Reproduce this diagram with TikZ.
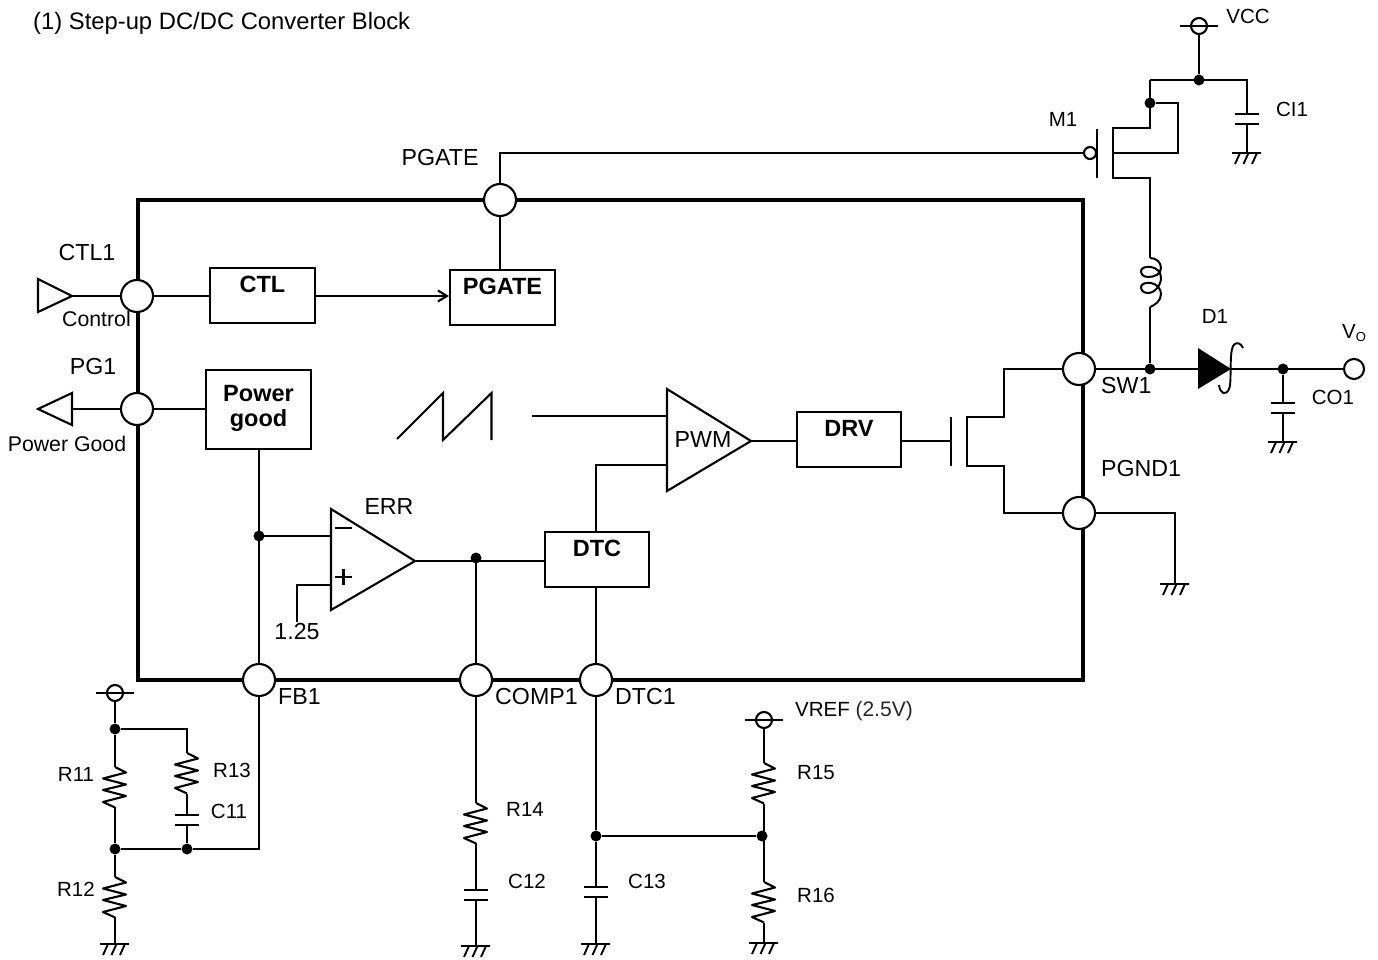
\documentclass[tikz,border=0pt]{standalone}
\usepackage{fontspec}
\setmainfont{Liberation Sans}
\usetikzlibrary{arrows.meta}
\tikzset{
  x=1pt,y=-1pt,
  wire/.style={line width=2.1pt,line join=miter},
  chip/.style={line width=3.8pt},
  pinc/.style={circle,draw,fill=white,line width=2.1pt,minimum size=32pt,inner sep=0pt},
  term/.style={circle,draw,fill=white,line width=2.1pt,inner sep=0pt},
  dotn/.style={circle,fill=black,minimum size=11pt,inner sep=0pt},
  block/.style={draw,line width=2.1pt,fill=white,inner sep=0pt},
  bl/.style={font=\fontsize{23.5}{27}\selectfont\bfseries,inner sep=0pt},
  lL/.style={font=\fontsize{23.2}{26}\selectfont,inner sep=0pt},
  lM/.style={font=\fontsize{20.5}{24}\selectfont,inner sep=0pt},
  lS/.style={font=\fontsize{21.3}{24}\selectfont,inner sep=0pt},
  gndsym/.pic={\draw[line width=1.9pt] (-15,0) -- (14,0) (-7,0) -- (-12,11) (1.5,0) -- (-3.5,11) (10,0) -- (5,11);},
  capsym/.pic={\draw[line width=2.1pt] (-12,-5) -- (12,-5) (-12,5) -- (12,5);},
  ressym/.pic={\draw[line width=2.1pt,line join=round] (0,0) -- (11,5.5) -- (-12,11.5) -- (11,17.5) -- (-12,23) -- (11,29) -- (-12,35) -- (0,40.5);},
  railsym/.pic={\draw[line width=2.1pt] (-19,0) -- (19,0);},
}
\begin{document}
\begin{tikzpicture}
\useasboundingbox (0,0) rectangle (1378,960);
% chip outline
\draw[chip] (138,200) rectangle (1083,680);
% pins
\node[pinc] (pGate) at (500,200) {};
\node[pinc] (pCtl) at (137,296) {};
\node[pinc] (pPg) at (137,409) {};
\node[pinc] (pSw) at (1079,369) {};
\node[pinc] (pGnd) at (1079,513) {};
\node[pinc] (pFb) at (259,680) {};
\node[pinc] (pComp) at (476,680) {};
\node[pinc] (pDtc) at (596,680) {};
% blocks
\node[block,minimum width=105pt,minimum height=55pt,label={[bl,yshift=11pt]center:CTL}] (bCtl) at (262.5,295.5) {};
\node[block,minimum width=105pt,minimum height=55pt,label={[bl,yshift=11pt]center:PGATE}] (bPgate) at (502.5,297.5) {};
\node[block,minimum width=105pt,minimum height=79pt,label={[bl,yshift=16pt]center:Power},label={[bl,yshift=-10.5pt]center:good}] (bPow) at (258.5,409.5) {};
\node[block,minimum width=104pt,minimum height=55pt,label={[bl,yshift=11pt]center:DRV}] (bDrv) at (849,439.5) {};
\node[block,minimum width=104pt,minimum height=55pt,label={[bl,yshift=11pt]center:DTC}] (bDtc) at (597,559.5) {};
% amplifiers
\coordinate (errN) at (331,536);
\coordinate (errP) at (331,585);
\coordinate (errO) at (415,561);
\draw[wire] (331,509) -- (errO) -- (331,610) -- cycle;
\draw[wire] (335,528) -- (352,528);
\draw[wire] (335,577) -- (352,577) (343.5,569) -- (343.5,585);
\coordinate (pwmA) at (667,416);
\coordinate (pwmB) at (667,465);
\coordinate (pwmO) at (751,441);
\draw[wire] (667,389) -- (pwmO) -- (667,491) -- cycle;
% sawtooth
\coordinate (sawEnd) at (532,416);
\draw[wire] (397,439) -- (443,393) -- (443,440) -- (491.5,393) -- (491.5,440);
% input / output flags
\coordinate (ctlTip) at (72,296);
\draw[wire] (38,279) -- (ctlTip) -- (38,312) -- cycle;
\coordinate (pgBase) at (72,409);
\draw[wire] (38,409) -- (72,393) -- (72,425) -- cycle;
% internal connections
\draw[wire] (ctlTip) -- (pCtl.west);
\draw[wire] (pCtl.east) -- (bCtl.west |- pCtl.east);
\draw[wire,-{Straight Barb[length=9pt,width=11pt]}] (bCtl.east |- pCtl.east) -- (bPgate.west |- pCtl.east);
\draw[wire] (pGate.south) -- (pGate.south |- bPgate.north);
\draw[wire] (pgBase) -- (pPg.west);
\draw[wire] (pPg.east) -- (bPow.west |- pPg.east);
\coordinate (fbJ) at (259,536);
\draw[wire] (bPow.south -| pFb.north) -- (pFb.north);
\draw[wire] (fbJ) -- (errN);
\node[dotn] (dFb) at (fbJ) {};
\coordinate (ref) at (297,622);
\draw[wire] (errP) -| (ref);
\coordinate (compJ) at (476,561);
\draw[wire] (errO) -- (bDtc.west |- errO);
\draw[wire] (compJ) -- (pComp.north);
\node[dotn] (dComp) at (476,558) {};
\draw[wire] (pDtc.north) -- (pDtc.north |- bDtc.south);
\draw[wire] (sawEnd) -- (pwmA);
\draw[wire] (bDtc.north -| pDtc.north) |- (pwmB);
\draw[wire] (pwmO) -- (bDrv.west |- pwmO);
% low side FET
\coordinate (lsG) at (951,441);
\draw[wire] (bDrv.east |- lsG) -- (lsG);
\draw[wire] (951,417) -- (951,466);
\draw[wire] (pSw.west) -| (1004,417) -- (967,417) -- (967,466) -- (1004,466) |- (pGnd.west);
% PGND to ground
\coordinate (g1) at (1175,584);
\draw[wire] (pGnd.east) -| (g1);
\pic at (g1) {gndsym};
% SW line, diode, output
\node[dotn] (dSw) at (1150,369) {};
\coordinate (dA) at (1198,369);
\coordinate (dK) at (1231,369);
\node[term,minimum size=20pt] (tVo) at (1354,369) {};
\node[dotn] (dVo) at (1283,369) {};
\draw[wire] (pSw.east) -- (dA);
\draw[wire] (dK) -- (tVo.west);
\fill (1198,348) -- (dK) -- (1198,389) -- cycle;
\draw[line width=1.9pt] (1243,348) .. controls (1241,343) and (1236,341) .. (1233,346) .. controls (1229,354) and (1232,384) .. (1229,389) .. controls (1226,396) and (1220,394) .. (1219,385);
\coordinate (capOt) at (1283,403);
\coordinate (capOb) at (1283,413);
\coordinate (g2) at (1283,442);
\draw[wire] (dVo) -- (capOt) (capOb) -- (g2);
\pic at (1283,408) {capsym};
\pic at (g2) {gndsym};
% inductor
\coordinate (lT) at (1150,258);
\coordinate (lB) at (1150,307);
\draw[wire] (dSw) -- (lB);
\draw[line width=2pt] (lT) .. controls (1156,258) and (1161,262) .. (1161,268) .. controls (1161,274) and (1155,277) .. (1148,277) .. controls (1142,277) and (1141,273) .. (1141,271) .. controls (1141,268) and (1146,266) .. (1151,267) .. controls (1157,268) and (1161,272) .. (1161,278) .. controls (1161,285) and (1155,293) .. (1148,293) .. controls (1142,293) and (1141,289) .. (1141,287) .. controls (1141,284) and (1146,282) .. (1151,283) .. controls (1157,284) and (1161,289) .. (1161,294) .. controls (1161,301) and (1155,305) .. (lB);
% M1
\coordinate (mS) at (1150,128);
\coordinate (mD) at (1150,178);
\node[term,minimum size=12pt] (mBub) at (1090,153) {};
\draw[wire] (pGate.north) |- (mBub.west);
\draw[wire] (1097,129) -- (1097,178);
\draw[wire] (1150,80) -- (mS) -- (1113,128) -- (1113,178) -- (mD) -- (lT);
\node[dotn] (dM) at (1150,103) {};
\draw[wire] (dM) -- (1178,103) -- (1178,153) -- (1113,153);
% VCC
\node[term,minimum size=16pt] (tVcc) at (1199,26) {};
\pic at (1199,26) {railsym};
\node[dotn] (dVcc) at (1199,80) {};
\coordinate (capIt) at (1247,114);
\coordinate (capIb) at (1247,124);
\coordinate (g3) at (1247,153);
\draw[wire] (tVcc.south) -- (dVcc);
\draw[wire] (1150,80) -- (1247,80) -- (capIt) (capIb) -- (g3);
\pic at (1247,119) {capsym};
\pic at (g3) {gndsym};
% FB network
\node[term,minimum size=16pt] (tFb) at (115,693) {};
\pic at (115,693) {railsym};
\node[dotn] (dA1) at (115,729) {};
\node[dotn] (dB1) at (115,849) {};
\node[dotn] (dC1) at (187,849) {};
\draw[wire] (tFb.south) -- (dA1);
\draw[wire] (dA1) -- (115,767) (115,807) -- (dB1);
\draw[wire] (dB1) -- (115,877) (115,917) -- (115,944);
\pic at (115,767) {ressym};
\pic at (115,877) {ressym};
\pic at (115,944) {gndsym};
\draw[wire] (dA1) -| (187,753) (187,794) -- (187,815) (187,825) -- (dC1);
\pic at (187,753) {ressym};
\pic at (187,820) {capsym};
\draw[wire] (dB1) -- (dC1) -- (259,849) -- (pFb.south);
% COMP network
\draw[wire] (pComp.south) -- (476,803) (476,843) -- (476,890) (476,900) -- (476,946);
\pic at (476,803) {ressym};
\pic at (476,895) {capsym};
\pic at (476,946) {gndsym};
% DTC network
\node[dotn] (dD1) at (596,836) {};
\node[dotn] (dD2) at (762,836) {};
\node[term,minimum size=16pt] (tRef) at (764,720) {};
\pic at (764,720) {railsym};
\draw[wire] (pDtc.south) -- (dD1) -- (596,887) (596,897) -- (596,944);
\pic at (596,892) {capsym};
\pic at (596,944) {gndsym};
\draw[wire] (dD1) -- (dD2);
\draw[wire] (tRef.south) -- (764,763) (764,804) -- (764,882) (764,923) -- (764,943);
\pic at (764,763) {ressym};
\pic at (764,882) {ressym};
\pic at (764,943) {gndsym};
% text
\node[anchor=west,inner sep=0pt,font=\fontsize{23.8}{27}\selectfont] (tTitle) at (33,23) {(1) Step-up DC/DC Converter Block};
\node[lL] (tPgate) at (440,158) {PGATE};
\node[lL] (tCtl1) at (87,253) {CTL1};
\node[lS] (tControl) at (96.5,319) {Control};
\node[lL] (tPg1) at (93,367) {PG1};
\node[lS] (tPowerGood) at (67,444) {Power Good};
\node[lL] (tErr) at (389,507) {ERR};
\node[lL] (tPwm) at (703,440) {PWM};
\node[lL] (t125) at (297,632) {1.25};
\node[lL,anchor=west] (tFb1) at (278,697) {FB1};
\node[lL,anchor=west] (tComp1) at (495,697) {COMP1};
\node[lL,anchor=west] (tDtc1) at (615,697) {DTC1};
\node[lL,anchor=west] (tSw1) at (1101,386) {SW1};
\node[lL,anchor=west] (tPgnd1) at (1101,469) {PGND1};
\node[lM] (tVccL) at (1248,16) {VCC};
\node[lM] (tM1) at (1063,119) {M1};
\node[lM] (tCi1) at (1292,109) {CI1};
\node[lM] (tD1) at (1215,316) {D1};
\node[lM,anchor=west] (tVo1) at (1342,333) {V\raisebox{-3pt}{\fontsize{13}{15}\selectfont O}};
\node[lM] (tCo1) at (1333,397) {CO1};
\node[lM] (tR11) at (76,774) {R11};
\node[lM] (tR12) at (76,889) {R12};
\node[lM] (tR13) at (232,770) {R13};
\node[lM] (tC11) at (229,811) {C11};
\node[lM] (tR14) at (525,809) {R14};
\node[lM] (tC12) at (527,881) {C12};
\node[lM] (tC13) at (647,881) {C13};
\node[lM] (tR15) at (816,773) {R15};
\node[lM] (tR16) at (816,895) {R16};
\node[lM,anchor=west] (tVref) at (795,711) {VREF \fontsize{21}{24}\selectfont\color{black!85}(2.5V)};
\end{tikzpicture}
\end{document}
